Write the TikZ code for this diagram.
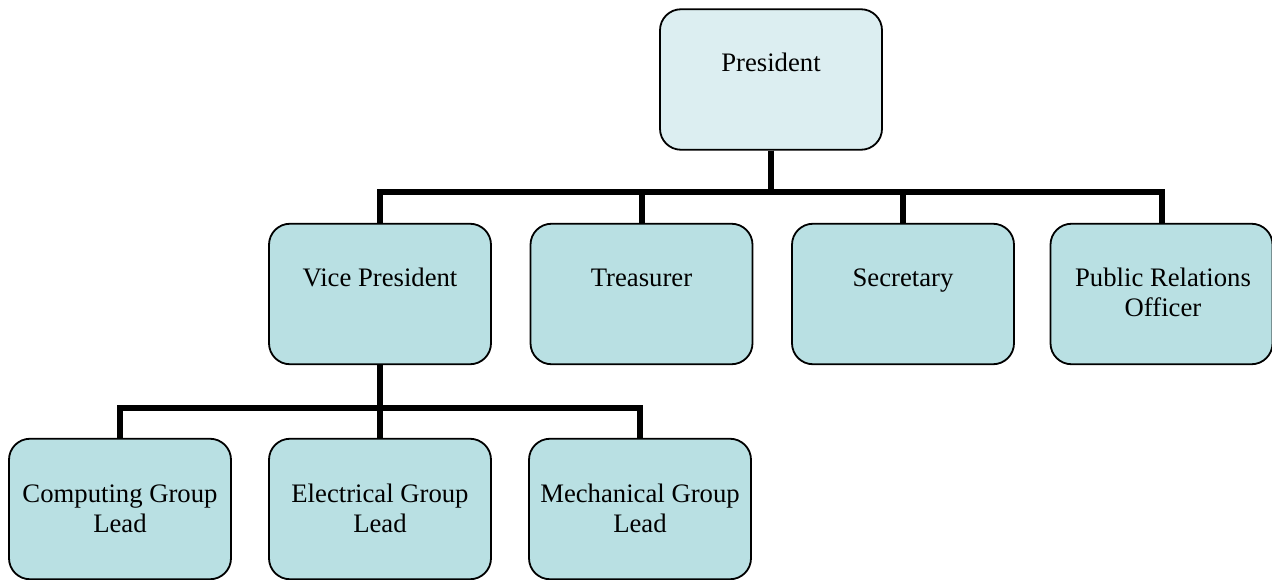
\documentclass[tikz,border=0pt]{standalone}
\usepackage{fontspec}
\setmainfont{Liberation Serif}
\usetikzlibrary{backgrounds}
\definecolor{presfill}{HTML}{DCEEF1}
\definecolor{boxfill}{HTML}{B9E0E3}
\newcommand{\twolines}[3]{\vtop{\baselineskip=#3\lineskiplimit=-100pt\hbox to 0pt{\hss#1\hss}\hbox to 0pt{\hss#2\hss}}}
\tikzset{
  orgbox/.style={draw=black, line width=1.8pt, rounded corners=21pt, fill=boxfill,
    minimum width=222pt, minimum height=140.5pt, inner sep=0pt},
  lbl/.style={anchor=base, inner sep=0pt, font=\fontsize{26.7}{30}\selectfont},
  conn/.style={line width=6pt, draw=black},
}
\begin{document}
\begin{tikzpicture}[x=1pt,y=-1pt]
\useasboundingbox (0,0) rectangle (1272,580);
% boxes
\path
  (771,79.5) node[orgbox, fill=presfill] (pres) {}
  (380,294) node[orgbox] (vp) {}
  (641.5,294) node[orgbox] (treas) {}
  (903,294) node[orgbox] (sec) {}
  (1161.5,294) node[orgbox] (pr) {}
  (120,509) node[orgbox] (comp) {}
  (380,509) node[orgbox] (elec) {}
  (640,509) node[orgbox] (mech) {};
\coordinate (bus1) at (0,192);
\coordinate (bus2) at (0,408);
% connectors
\begin{scope}[on background layer]
\draw[conn] (pres.south) -- (pres.south |- bus1) -| (vp.north);
\draw[conn] (pres.south) -- (pres.south |- bus1) -| (treas.north);
\draw[conn] (pres.south) -- (pres.south |- bus1) -| (sec.north);
\draw[conn] (pres.south) -- (pres.south |- bus1) -| (pr.north);
\draw[conn] (vp.south) -- (vp.south |- bus2) -| (comp.north);
\draw[conn] (vp.south) -- (vp.south |- bus2) -| (elec.north);
\draw[conn] (vp.south) -- (vp.south |- bus2) -| (mech.north);
\end{scope}
% labels
\node[lbl] (tpres) at (771,72) {President};
\node[lbl] (tvp) at (380,287) {Vice President};
\node[lbl] (ttreas) at (641.5,287) {Treasurer};
\node[lbl] (tsec) at (903,287) {Secretary};
\node[lbl] (tpr) at (1163,286) {\twolines{Public Relations}{Officer}{30pt}};
\node[lbl] (tcomp) at (120,502) {\twolines{Computing Group}{Lead}{30pt}};
\node[lbl] (telec) at (380,502) {\twolines{Electrical Group}{Lead}{30pt}};
\node[lbl] (tmech) at (640,502) {\twolines{Mechanical Group}{Lead}{30pt}};
\end{tikzpicture}
\end{document}
